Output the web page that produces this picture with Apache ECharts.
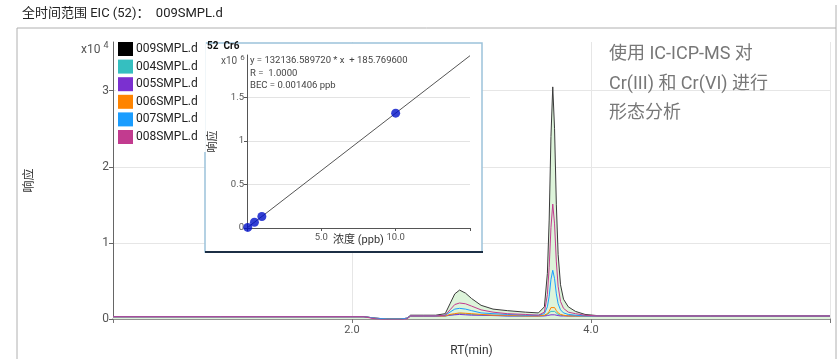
<!DOCTYPE html>
<html>
<head>
<meta charset="utf-8">
<script src="https://cdn.jsdelivr.net/npm/echarts@6/dist/echarts.min.js"></script>
<style>
  html, body { margin: 0; padding: 0; background: #fff; }
  #chart { width: 840px; height: 359px; }
</style>
</head>
<body>
<div id="chart"></div>
<script>
const FONT = 'Roboto, "Noto Sans CJK SC", sans-serif'

// Chromatogram: retention time (min) and response (x10^4)
const rt = [0, 0.3, 0.6, 0.9, 1.2, 1.5, 1.8, 2.1, 2.2, 2.3, 2.4, 2.46, 2.49, 2.6, 2.7, 2.78,
  2.82, 2.86, 2.9, 2.95, 3.0, 3.08, 3.18, 3.3, 3.45, 3.56,
  3.61, 3.635, 3.65, 3.665, 3.68, 3.695, 3.71, 3.725, 3.745, 3.77, 3.81, 3.87, 3.95, 4.05,
  4.5, 5.0, 5.5, 6.0]

const s009 = [0.03, 0.03, 0.03, 0.03, 0.03, 0.03, 0.03, 0.03, 0.01, 0.0, 0.0, 0.01, 0.05, 0.05, 0.05, 0.07,
  0.2, 0.33, 0.38, 0.34, 0.27, 0.18, 0.13, 0.11, 0.09, 0.08,
  0.16, 0.6, 1.3, 2.4, 3.05, 2.5, 1.5, 0.85, 0.45, 0.26, 0.16, 0.1, 0.06, 0.045,
  0.04, 0.04, 0.04, 0.04]
const s004 = [0.03, 0.03, 0.03, 0.03, 0.03, 0.03, 0.03, 0.03, 0.01, 0.0, 0.0, 0.01, 0.04, 0.04, 0.04, 0.04,
  0.05, 0.06, 0.07, 0.065, 0.06, 0.05, 0.05, 0.04, 0.04, 0.04,
  0.045, 0.06, 0.08, 0.1, 0.11, 0.1, 0.08, 0.06, 0.05, 0.045, 0.04, 0.04, 0.04, 0.04,
  0.04, 0.04, 0.04, 0.04]
const s005 = [0.03, 0.03, 0.03, 0.03, 0.03, 0.03, 0.03, 0.03, 0.01, 0.0, 0.0, 0.01, 0.04, 0.04, 0.04, 0.04,
  0.05, 0.055, 0.06, 0.055, 0.05, 0.05, 0.045, 0.04, 0.04, 0.04,
  0.04, 0.045, 0.05, 0.055, 0.06, 0.055, 0.05, 0.045, 0.04, 0.04, 0.04, 0.04, 0.04, 0.04,
  0.04, 0.04, 0.04, 0.04]
const s006 = [0.03, 0.03, 0.03, 0.03, 0.03, 0.03, 0.03, 0.03, 0.01, 0.0, 0.0, 0.01, 0.04, 0.04, 0.04, 0.04,
  0.06, 0.07, 0.08, 0.075, 0.07, 0.06, 0.05, 0.05, 0.04, 0.04,
  0.05, 0.07, 0.1, 0.15, 0.17, 0.15, 0.11, 0.08, 0.06, 0.05, 0.04, 0.04, 0.04, 0.04,
  0.04, 0.04, 0.04, 0.04]
const s007 = [0.03, 0.03, 0.03, 0.03, 0.03, 0.03, 0.03, 0.03, 0.01, 0.0, 0.0, 0.01, 0.04, 0.04, 0.04, 0.05,
  0.09, 0.13, 0.14, 0.13, 0.11, 0.08, 0.07, 0.06, 0.05, 0.05,
  0.07, 0.16, 0.3, 0.52, 0.64, 0.53, 0.33, 0.2, 0.12, 0.08, 0.06, 0.05, 0.04, 0.04,
  0.04, 0.04, 0.04, 0.04]
const s008 = [0.03, 0.03, 0.03, 0.03, 0.03, 0.03, 0.03, 0.03, 0.0, -0.01, -0.01, 0.0, 0.04, 0.04, 0.04, 0.05,
  0.12, 0.19, 0.21, 0.2, 0.17, 0.12, 0.09, 0.07, 0.06, 0.05,
  0.09, 0.32, 0.68, 1.2, 1.51, 1.25, 0.75, 0.43, 0.23, 0.14, 0.09, 0.07, 0.05, 0.04,
  0.04, 0.04, 0.04, 0.04]

const sampleNames = ['009SMPL.d', '004SMPL.d', '005SMPL.d', '006SMPL.d', '007SMPL.d', '008SMPL.d']
const sampleColors = ['#000000', '#35bfc0', '#7b30d0', '#ff8400', '#1a9dff', '#c23b8f']
const sampleValues = [s009, s004, s005, s006, s007, s008]

const rtTicks = [0, 2, 4, 6]
const rtLabels = [2, 4]
const respTicks = [0, 1, 2, 3]

// Calibration inset (52 Cr6): concentration (ppb) vs response (x10^6)
const calConc = [0.05, 0.5, 1.0, 10.0]
const calResp = [0.007, 0.066, 0.132, 1.321]
const fitConc = [0, 15]
const fitResp = [0.000186, 1.982]
const calTicks = [0, 0.5, 1, 1.5]
const concLabels = [5, 10]
const fitText = [
  'y = 132136.589720 * x  + 185.769600',
  'R =  1.0000',
  'BEC = 0.001406 ppb'
]

const chart = echarts.init(document.getElementById('chart'))

const mainSeries = sampleNames.map((name, k) => ({
  name,
  type: 'line',
  xAxisIndex: 0,
  yAxisIndex: 0,
  data: rt.map((t, i) => [t, sampleValues[k][i]]),
  showSymbol: false,
  silent: true,
  z: 2,
  itemStyle: { color: sampleColors[k] },
  lineStyle: { width: 1, color: k === 0 ? '#3a3a3a' : sampleColors[k] },
  areaStyle: k === 0 ? { color: '#ddf4da', opacity: 1 } : undefined
}))

chart.setOption({
  animation: false,
  textStyle: { fontFamily: FONT },
  grid: [
    { left: 113, right: 10, top: 42, bottom: 40, outerBoundsMode: 'none' },
    { left: 247, right: 370, top: 55, bottom: 131, outerBoundsMode: 'none' }
  ],
  legend: {
    orient: 'vertical',
    left: 116,
    top: 40,
    padding: [2, 8, 8, 2],
    backgroundColor: '#fff',
    itemWidth: 15,
    itemHeight: 14,
    itemGap: 3.6,
    itemStyle: { borderWidth: 0 },
    icon: 'rect',
    z: 10,
    textStyle: { fontSize: 12, color: '#222', padding: [0, 0, 0, -2] },
    data: sampleNames.map((name, k) => ({ name, itemStyle: { color: sampleColors[k] } }))
  },
  xAxis: [
    {
      type: 'value',
      gridIndex: 0,
      min: 0,
      max: 6,
      name: 'RT(min)',
      nameLocation: 'middle',
      nameGap: 26,
      nameTextStyle: { fontSize: 12, color: '#333' },
      axisLine: { lineStyle: { color: '#777', width: 1.5 } },
      axisTick: { customValues: rtTicks, length: 4, lineStyle: { color: '#777' } },
      axisLabel: { customValues: rtLabels, fontSize: 11, color: '#555', margin: 6, formatter: v => v.toFixed(1) },
      splitLine: { show: true, lineStyle: { color: '#e6e6e6' } }
    },
    {
      type: 'value',
      gridIndex: 1,
      min: 0,
      max: 15,
      interval: 5,
      z: 6,
      name: '浓度 (ppb)',
      nameLocation: 'middle',
      nameGap: 7,
      nameMoveOverlap: false,
      nameTextStyle: { fontSize: 11, color: '#333' },
      axisLine: { lineStyle: { color: '#555' } },
      axisTick: { length: 3, lineStyle: { color: '#555' } },
      axisLabel: { customValues: concLabels, fontSize: 9.5, color: '#555', margin: 5, formatter: v => v.toFixed(1) },
      splitLine: { show: false }
    }
  ],
  yAxis: [
    {
      type: 'value',
      gridIndex: 0,
      min: 0,
      max: 3.64,
      name: '响应',
      nameLocation: 'middle',
      nameGap: 77,
      nameTextStyle: { fontSize: 12, color: '#333' },
      axisLine: { show: true, lineStyle: { color: '#666' } },
      axisTick: { show: true, customValues: respTicks, length: 4, lineStyle: { color: '#666' } },
      axisLabel: { customValues: respTicks, fontSize: 12, color: '#555', margin: 4 },
      splitLine: { show: true, lineStyle: { color: '#e6e6e6' } }
    },
    {
      type: 'value',
      gridIndex: 1,
      min: 0,
      max: 1.99,
      z: 6,
      name: '响应',
      nameLocation: 'middle',
      nameGap: 28,
      nameMoveOverlap: false,
      nameTextStyle: { fontSize: 11, color: '#333' },
      axisLine: { show: true, lineStyle: { color: '#555' } },
      axisTick: { show: true, customValues: calTicks, length: 3, lineStyle: { color: '#555' } },
      axisLabel: { customValues: calTicks, fontSize: 9.5, color: '#555', margin: 3 },
      splitLine: { show: true, lineStyle: { color: '#e3e3e3' } }
    }
  ],
  series: [
    ...mainSeries,
    {
      name: 'fit',
      type: 'line',
      xAxisIndex: 1,
      yAxisIndex: 1,
      data: fitConc.map((c, i) => [c, fitResp[i]]),
      showSymbol: false,
      silent: true,
      z: 7,
      lineStyle: { width: 1, color: '#555' }
    },
    {
      name: 'standards',
      type: 'scatter',
      xAxisIndex: 1,
      yAxisIndex: 1,
      data: calConc.map((c, i) => [c, calResp[i]]),
      symbolSize: 9,
      silent: true,
      z: 8,
      itemStyle: { color: '#0010c8' }
    }
  ],
  graphic: [
    // outer frame
    { type: 'line', z: 1, shape: { x1: 17, y1: 28, x2: 836, y2: 28 }, style: { stroke: '#b0b0b0', lineWidth: 1 } },
    { type: 'line', z: 1, shape: { x1: 17, y1: 28, x2: 17, y2: 359 }, style: { stroke: '#b0b0b0', lineWidth: 1 } },
    { type: 'line', z: 1, shape: { x1: 836, y1: 5, x2: 836, y2: 359 }, style: { stroke: '#b0b0b0', lineWidth: 1 } },
    {
      type: 'text', left: 22, top: 7, z: 10,
      style: { text: '全时间范围 EIC (52)：  009SMPL.d', font: '13px ' + FONT, fill: '#222' }
    },
    {
      type: 'text', left: 81, top: 41, z: 10,
      style: {
        text: '{a|x10}{b|4}',
        rich: {
          a: { fontSize: 12, fontFamily: FONT, fill: '#555', padding: [5, 0, 0, 0] },
          b: { fontSize: 9, fontFamily: FONT, fill: '#555', padding: [0, 0, 4, 3] }
        }
      }
    },
    {
      type: 'text', left: 609, top: 40, z: 10,
      style: {
        text: '使用 IC-ICP-MS 对\nCr(III) 和 Cr(VI) 进行\n形态分析',
        font: '18px ' + FONT,
        lineHeight: 29.5,
        fill: '#777'
      }
    },
    // inset panel
    {
      type: 'rect', z: 5,
      shape: { x: 205, y: 43, width: 277, height: 209 },
      style: { fill: '#fff', stroke: '#9cc2da', lineWidth: 1.5 }
    },
    { type: 'line', z: 5, shape: { x1: 205, y1: 252, x2: 483, y2: 252 }, style: { stroke: '#1c2f45', lineWidth: 2 } },
    {
      type: 'text', left: 207, top: 42, z: 10,
      style: { text: '52  Cr6', font: 'bold 10px ' + FONT, fill: '#111' }
    },
    {
      type: 'text', left: 221, top: 54, z: 10,
      style: {
        text: '{a|x10}{b|6}',
        rich: {
          a: { fontSize: 10, fontFamily: FONT, fill: '#555', padding: [4, 0, 0, 0] },
          b: { fontSize: 8, fontFamily: FONT, fill: '#555', padding: [0, 0, 3, 3] }
        }
      }
    },
    {
      type: 'text', left: 250, top: 55, z: 10,
      style: { text: fitText.join('\n'), font: '9.5px ' + FONT, lineHeight: 12.2, fill: '#444' }
    }
  ]
})
</script>
</body>
</html>
